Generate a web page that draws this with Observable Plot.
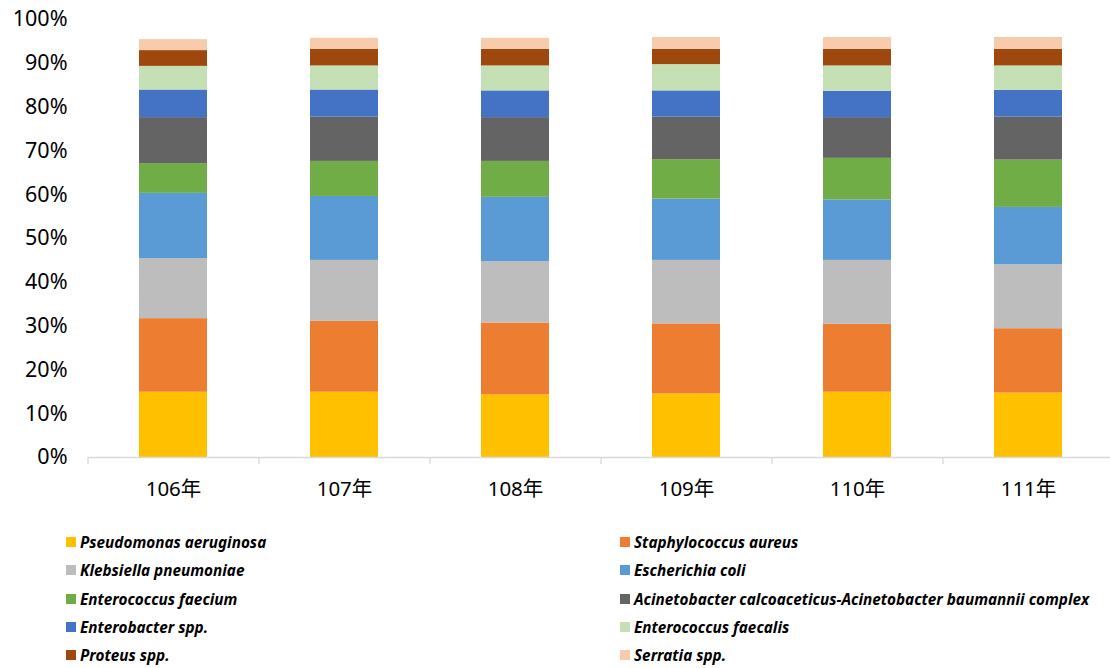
<!DOCTYPE html>
<html>
<head>
<meta charset="utf-8">
<script src="https://cdn.jsdelivr.net/npm/d3@7"></script>
<script src="https://cdn.jsdelivr.net/npm/@observablehq/plot@0.6"></script>
<style>
  body { margin: 0; background: #fff; }
  #chart { width: 1110px; font-family: "Noto Sans", "Noto Sans CJK TC", sans-serif; }
  .legend {
    display: grid;
    grid-template-columns: 554px 490px;
    padding: 14px 0 0 66px;
    row-gap: 0;
  }
  .legend .item {
    display: flex; align-items: center; height: 28.3px;
    font: italic bold 15.3px "Noto Sans", sans-serif; color: #000;
    white-space: nowrap;
  }
  .legend .sw { width: 10px; height: 10px; margin-right: 4px; flex: none; }
</style>
</head>
<body>
<div id="chart"></div>
<script>
// Years (ROC calendar) on the x axis
const years = ["106年", "107年", "108年", "109年", "110年", "111年"];

// Organisms, bottom to top of each stack
const species = [
  "Pseudomonas aeruginosa",
  "Staphylococcus aureus",
  "Klebsiella pneumoniae",
  "Escherichia coli",
  "Enterococcus faecium",
  "Acinetobacter calcoaceticus-Acinetobacter baumannii complex",
  "Enterobacter spp.",
  "Enterococcus faecalis",
  "Proteus spp.",
  "Serratia spp."
];

// Share of isolates (%) per year
const pseudomonasAeruginosa = [14.9, 14.9, 14.3, 14.5, 14.9, 14.7];
const staphylococcusAureus  = [16.8, 16.2, 16.4, 16.0, 15.5, 14.7];
const klebsiellaPneumoniae  = [13.7, 13.9, 14.0, 14.5, 14.6, 14.6];
const escherichiaColi       = [14.9, 14.6, 14.7, 14.0, 13.8, 13.1];
const enterococcusFaecium   = [6.8, 8.0, 8.2, 9.0, 9.5, 10.8];
const acinetobacterComplex  = [10.5, 10.1, 10.0, 9.7, 9.3, 9.8];
const enterobacterSpp       = [6.3, 6.2, 6.1, 6.0, 6.0, 6.1];
const enterococcusFaecalis  = [5.4, 5.5, 5.7, 6.0, 5.8, 5.6];
const proteusSpp            = [3.6, 3.8, 3.8, 3.5, 3.8, 3.8];
const serratiaSpp           = [2.5, 2.5, 2.5, 2.7, 2.7, 2.7];

const yTicks = [0, 10, 20, 30, 40, 50, 60, 70, 80, 90, 100];

const colors = [
  "#FFC000", "#ED7D31", "#BDBDBD", "#5B9BD5", "#70AD47",
  "#646464", "#4472C4", "#C5E0B4", "#9E480E", "#F8CBAD"
];

const series = [
  pseudomonasAeruginosa, staphylococcusAureus, klebsiellaPneumoniae,
  escherichiaColi, enterococcusFaecium, acinetobacterComplex,
  enterobacterSpp, enterococcusFaecalis, proteusSpp, serratiaSpp
];

const rows = years.flatMap((year, i) =>
  species.map((name, j) => ({year, species: name, value: series[j][i]}))
);

const width = 1110;
const marginLeft = 88;
const marginRight = -4;
const step = (width - marginLeft - marginRight) / years.length;

const chart = Plot.plot({
  width,
  height: 514,
  marginTop: 19,
  marginBottom: 57,
  marginLeft,
  marginRight,
  style: {fontFamily: "'Noto Sans', 'Noto Sans CJK TC', sans-serif", color: "#000", overflow: "visible"},
  x: {domain: years, paddingInner: 0.6, paddingOuter: 0.3, label: null},
  y: {domain: [0, 100], label: null},
  color: {domain: species, range: colors},
  marks: [
    Plot.barY(rows, {x: "year", y: "value", fill: "species", order: species}),
    Plot.ruleY([0], {stroke: "#d9d9d9", strokeWidth: 1.3}),
    // category separators on the baseline
    Plot.axisX({tickSize: 7, dx: -step / 2, text: null, stroke: "#d9d9d9", strokeWidth: 1.3}),
    Plot.axisX({tickSize: 0, tickPadding: 24, fontSize: 20.5, fill: "#000"}),
    Plot.axisY({ticks: yTicks, tickFormat: d => d + "%", tickSize: 0, tickPadding: 21, fontSize: 21.5, fill: "#000"})
  ]
});

const root = document.getElementById("chart");
root.appendChild(chart);

// Two-column legend below the plot
const legend = document.createElement("div");
legend.className = "legend";
species.forEach((name, j) => {
  const item = document.createElement("div");
  item.className = "item";
  const sw = document.createElement("span");
  sw.className = "sw";
  sw.style.background = colors[j];
  const label = document.createElement("span");
  label.textContent = name;
  item.append(sw, label);
  legend.appendChild(item);
});
root.appendChild(legend);
</script>
</body>
</html>
